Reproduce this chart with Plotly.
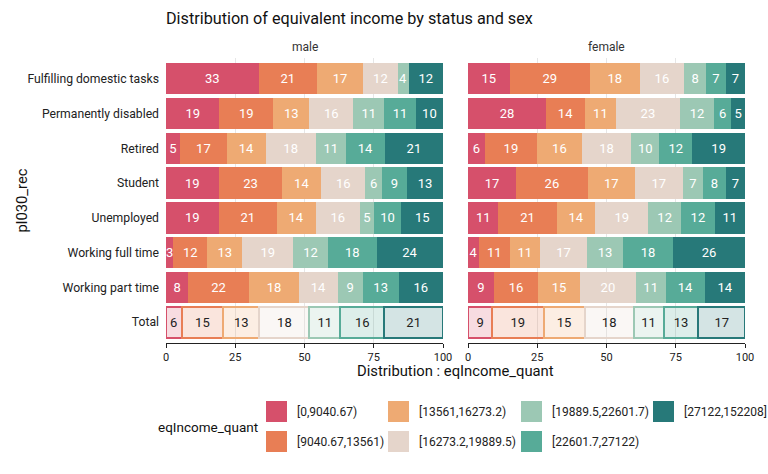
import plotly.graph_objects as go

# ---------------- data ----------------
statuses = ["Fulfilling domestic tasks", "Permanently disabled", "Retired", "Student",
            "Unemployed", "Working full time", "Working part time", "Total"]
quantiles = ["[0,9040.67)", "[9040.67,13561)", "[13561,16273.2)", "[16273.2,19889.5)",
             "[19889.5,22601.7)", "[22601.7,27122)", "[27122,152208]"]
colors = ["#d6506b", "#e87e55", "#eeaa73", "#e5d5cb", "#9cc8b4", "#57ab98", "#277979"]
sexes = ["male", "female"]

# share (%) of each income quantile, one list per status (rows in `statuses` order)
male_rows = {
    "Fulfilling domestic tasks": [33.4, 21.1, 16.7, 12.4, 4.0, 0.0, 12.4],
    "Permanently disabled":      [19.3, 19.4, 13.1, 15.8, 11.2, 11.4, 9.8],
    "Retired":                   [5, 17, 14, 18, 11, 14, 21],
    "Student":                   [19, 23, 14, 16, 6, 9, 13],
    "Unemployed":                [19, 21, 14, 16, 5, 10, 15],
    "Working full time":         [2.6, 12.3, 12.6, 18.5, 12.4, 17.7, 23.9],
    "Working part time":         [8, 22, 18, 14, 9, 13, 16],
    "Total":                     [5.6, 15.1, 13.0, 18.1, 11.1, 15.9, 21.2],
}
female_rows = {
    "Fulfilling domestic tasks": [15, 29, 18, 16, 8, 7, 7],
    "Permanently disabled":      [28.2, 14.0, 11.2, 23.1, 12.4, 6.1, 5.0],
    "Retired":                   [6, 19, 16, 18, 10, 12, 19],
    "Student":                   [17.3, 26.0, 16.9, 17.4, 7.2, 8.3, 6.9],
    "Unemployed":                [11, 21, 14, 19, 12, 12, 11],
    "Working full time":         [4, 11, 11, 17, 13, 18, 26],
    "Working part time":         [9.4, 15.9, 15.1, 20.2, 10.7, 14.3, 14.4],
    "Total":                     [8.7, 18.6, 14.8, 17.7, 10.8, 12.6, 16.8],
}
x_ticks = [0, 25, 50, 75, 100]

# ---------------- layout helpers (pixel -> paper) ----------------
W, H = 768, 474
ML, MR, MT, MB = 166, 23, 58, 131
PW, PH = W - ML - MR, H - MT - MB


def px(x):
    return (x - ML) / PW


def py(y):
    return (H - MB - y) / PH


def rgba(hexc, a):
    h = hexc.lstrip("#")
    r, g, b = int(h[0:2], 16), int(h[2:4], 16), int(h[4:6], 16)
    return f"rgba({r},{g},{b},{a})"


fig = go.Figure()
FONT = "Roboto, 'Open Sans', sans-serif"

for si, (sex, rows) in enumerate([("male", male_rows), ("female", female_rows)]):
    xa = "x" if si == 0 else "x2"
    ya = "y" if si == 0 else "y2"
    for qi, q in enumerate(quantiles):
        vals = [rows[s][qi] for s in statuses]
        is_total = [s == "Total" for s in statuses]
        fig.add_trace(go.Bar(
            x=vals, y=statuses, orientation="h", name=q,
            xaxis=xa, yaxis=ya, width=0.9,
            marker=dict(
                color=[rgba(colors[qi], 0.2) if t else colors[qi] for t in is_total],
                line=dict(color=colors[qi], width=[2 if t else 0 for t in is_total]),
            ),
            texttemplate=[("%{x:.0f}" if v > 0 else "") for v in vals],
            textposition="inside", insidetextanchor="middle",
            constraintext="none",
            textfont=dict(family=FONT, size=13,
                          color=["#222222" if t else "white" for t in is_total]),
            showlegend=False, hoverinfo="x+y+name",
        ))

axis_x = dict(range=[0, 100], tickvals=x_ticks, ticks="outside", ticklen=4,
              tickcolor="#222", showline=True, linecolor="#222", linewidth=1,
              showgrid=True, gridcolor="#e6e6e6", gridwidth=1, zeroline=False,
              automargin=False,
              tickfont=dict(family=FONT, size=11, color="#222"), fixedrange=True)
axis_y = dict(type="category", categoryarray=statuses, range=[7.6, -0.6],
              showgrid=False, zeroline=False, ticks="", showline=False,
              automargin=False,
              tickfont=dict(family=FONT, size=12.2, color="#222"))

fig.update_layout(
    width=W, height=H,
    margin=dict(l=ML, r=MR, t=MT, b=MB, autoexpand=False),
    paper_bgcolor="white", plot_bgcolor="white",
    barmode="stack", bargap=0.1,
    font=dict(family=FONT, color="#222"),
    title=dict(text="Distribution of equivalent income by status and sex",
               x=0, xref="paper", xanchor="left", y=1 - 18 / H, yref="container",
               yanchor="middle", automargin=False,
               font=dict(family=FONT, size=16.2, color="#111")),
    xaxis=dict(domain=[0, px(443)], anchor="y", **axis_x),
    xaxis2=dict(domain=[px(468), 1], anchor="y2", **axis_x),
    yaxis=dict(domain=[0, 1], anchor="x", ticklabelstandoff=6, **axis_y),
    yaxis2=dict(domain=[0, 1], anchor="x2", showticklabels=False, **axis_y),
)


def label(text, x, y, size, color="#222", xanchor="center", angle=0):
    return dict(text=text, x=px(x), y=py(y), xref="paper", yref="paper",
                xanchor=xanchor, yanchor="middle", showarrow=False, textangle=angle,
                font=dict(family=FONT, size=size, color=color))


ann = []
# facet strips
ann.append(label("male", 304.5, 47, 12, "#333"))
ann.append(label("female", 606.5, 47, 12, "#333"))
# axis titles
ann.append(label("Distribution : eqIncome_quant", 455.5, 371, 14.8, "#111"))
ann.append(label("pl030_rec", 21, 200.5, 14.8, "#111", angle=-90))
# legend (manual, column-major like ggplot)
ann.append(label("eqIncome_quant", 260, 427, 13.5, "#111", xanchor="right"))
col_x = [266, 388, 521, 653]
row_y = [401, 431]
shapes = []
for qi, q in enumerate(quantiles):
    c, r = qi // 2, qi % 2
    x0, y0 = col_x[c], row_y[r]
    shapes.append(dict(type="rect", xref="paper", yref="paper",
                       x0=px(x0), x1=px(x0 + 21), y0=py(y0 + 21), y1=py(y0),
                       fillcolor=colors[qi], line=dict(width=0)))
    ann.append(label(q, x0 + 29, y0 + 10.5, 12, "#222", xanchor="left"))

fig.update_layout(annotations=ann, shapes=shapes)
fig.write_html("out.html", config={"displayModeBar": False})

# remove the browser's default page margin so the figure sits at (0, 0)
with open("out.html", encoding="utf-8") as f:
    html = f.read()
html = html.replace("<body>", '<body style="margin:0;padding:0;overflow:hidden">', 1)
with open("out.html", "w", encoding="utf-8") as f:
    f.write(html)
